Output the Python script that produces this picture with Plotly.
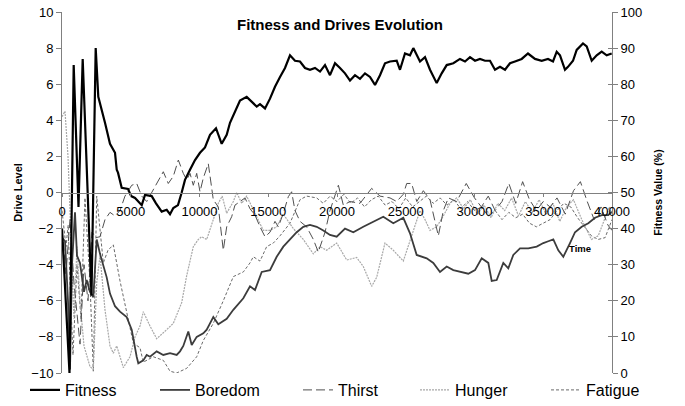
import plotly.graph_objects as go

# ---------------- data ----------------
fitness_t = [0, 290, 545, 850, 1200, 1505, 2145, 2450, 2640, 3127, 3490, 3855, 3980, 4073, 4342,
             4800, 5030, 5310, 5800, 6036, 6524, 6836, 7250, 7614, 7855, 8095, 8436, 8705, 8945,
             9309, 9673, 10036, 10400, 10764, 11200, 11614, 11978, 12218, 12705, 12945, 13432,
             13796, 14160, 14400, 14764, 15127, 15490, 15855, 16218, 16582, 16945, 17310, 17673,
             18036, 18400, 18764, 19127, 19490, 19855, 20218, 20582, 20945, 21310, 21673, 22036,
             22400, 22764, 23127, 23490, 23855, 24342, 24582, 24945, 25310, 25550, 26036, 26400,
             26764, 27250, 27614, 27978, 28460, 28945, 29310, 29673, 30036, 30400, 30764, 31127,
             31490, 31855, 32218, 32582, 32945, 33432, 33890, 34400, 34887, 35345, 35710, 35978,
             36218, 36582, 36800, 37164, 37432, 37890, 38160, 38524, 38887, 39250, 39614, 39978]
fitness_v = [40, 20, 0, 85.3, 46, 87, 21.5, 90, 76.5, 69.3, 63.5, 61, 56.3, 55.5, 51.3,
             51, 49, 48.5, 46.5, 49.3, 49, 47, 44.7, 45.2, 44, 45.7, 46.5, 50, 53.5,
             56.3, 59, 61, 62.5, 66, 67.8, 63.5, 66, 69.3, 73.5, 75.5, 76.5,
             75, 73.8, 74.5, 73.3, 76, 79.3, 82, 84.5, 88, 86.5, 86.3, 84.5,
             84, 84.5, 83.5, 85.3, 82.5, 85.8, 84.5, 83, 81, 82.5, 81.5, 83,
             82, 79.8, 82.5, 85.8, 86.3, 86.5, 84, 88.5, 88, 90, 86.3, 87.5,
             84, 80.3, 83, 85.3, 85.8, 87, 86.3, 87.5, 86.5, 87, 86.5, 86.5,
             84, 84.8, 84, 85.8, 86.3, 87, 88.5, 87, 86.5, 87, 86.3, 89,
             88, 84, 84.8, 86.5, 89.5, 91.3, 90.5, 86.5, 88, 89, 88, 88.5]

boredom_t = [0, 218, 436, 582, 727, 945, 1090, 1309, 1600, 1796, 2036, 2276, 2524, 2764, 3250,
             3490, 3855, 4218, 4705, 5070, 5432, 5550, 5913, 6160, 6400, 6887, 7367, 7855, 8342,
             8582, 8822, 9186, 9433, 9796, 10276, 10524, 10764, 11004, 11367, 11978, 12458, 12822,
             13186, 13673, 14036, 14524, 15127, 15614, 16095, 16582, 17070, 17550, 18036, 18524,
             19004, 19490, 19978, 20582, 21186, 21913, 22640, 23367, 24095, 24822, 25310, 25796,
             26524, 27004, 27490, 27978, 28458, 29070, 29550, 30036, 30524, 31004, 31250, 31614,
             32095, 32458, 32822, 33310, 33913, 34524, 35004, 35367, 35732, 36095, 36458, 36945,
             37310, 37796, 38277, 38764, 39250, 39732, 39978]
boredom_v = [-2.5, -2.7, -6, -9.8, -4, -1.1, -3.5, -3.9, -5.5, -4.85, -5.5, -5.8, -2.6, -3.4, -4.7,
             -5.6, -6.3, -6.6, -6.9, -7.6, -9.1, -9.46, -9.3, -9.0, -9.1, -8.8, -9.0, -8.9, -9.0,
             -8.8, -8.5, -7.7, -8.45, -8.0, -7.8, -7.6, -7.25, -6.9, -7.3, -7.0, -6.5, -6.2,
             -5.86, -5.2, -5.4, -4.4, -4.3, -3.56, -3.0, -2.6, -2.2, -1.9, -1.8, -1.9,
             -2.1, -2.35, -2.45, -2.0, -2.2, -1.9, -1.6, -1.34, -1.7, -1.4, -2.26, -3.46,
             -3.65, -3.9, -4.4, -4.1, -4.3, -4.4, -4.5, -4.3, -3.65, -3.9, -4.9, -4.85,
             -3.9, -4.2, -3.46, -3.1, -3.1, -3.0, -2.8, -2.7, -2.6, -3.2, -3.56, -2.8,
             -2.2, -1.9, -1.7, -1.4, -1.25, -1.25, -1.06]

thirst_t = [0, 290, 580, 870, 1310, 1600, 1890, 2180, 2470, 2764, 3127, 3490, 3855, 4218, 4580,
            5070, 5432, 5800, 6160, 6525, 6887, 7367, 7730, 8095, 8460, 8822, 9070, 9310, 9550,
            9796, 10036, 10276, 10640, 10885, 11004, 11367, 11730, 11978, 12340, 12580, 12945,
            13310, 13673, 14036, 14400, 14764, 15127, 15490, 15734, 16095, 16460, 16700, 16945,
            17310, 17790, 18280, 18640, 19130, 19490, 20100, 20460, 20945, 21673, 22520, 23127,
            23855, 24340, 24820, 25070, 25430, 25800, 26280, 26764, 27130, 27370, 27734, 28100,
            28700, 29400, 30000, 30500, 31000, 31500, 32000, 32500, 33000, 33500, 34000, 34500,
            35000, 35500, 36000, 36600, 37200, 37700, 38200, 38700, 39200, 39700, 40000]
thirst_v = [-2.0, -4.5, -1.5, -5, -8.4, -4, -6, -2.2, -2.5, -2.45, -1.5, -1.1, -1.3, -1.0, -0.2,
            0.4, 0.5, -0.2, -0.5, 0.0, 0.5, 1.15, 0.5, 0.9, 1.8, 1.06, 0.7, 1.06, 0.4,
            1.06, 0.04, 0.8, 1.6, 0.3, -0.4, -0.8, -3.2, -1.9, -1.34, -0.7, -0.5,
            -0.3, -0.9, -1.25, -1.9, -2.45, -2.2, -1.6, -1.9, -1.15, -0.23, 0.04, -1.0,
            -1.6, -1.9, -2.6, -3.3, -2.2, -1.0, 0.4, -0.7, -0.5, -0.6, 0.23, -0.2,
            -0.3, -0.5, -0.1, 0.5, 0.5, -0.5, 0.1, -0.4, -1.7, -2.4, -1.0, -0.3,
            -0.5, 0.5, -0.3, -0.8, -0.2, -1.0, -0.5, 0.5, -0.6, 0.6, -0.4, -1.0,
            -0.5, -0.8, -0.3, -1.2, 0.1, 0.6, -0.5, -1.5, -0.8, -1.8, -2.1]

hunger_t = [0, 218, 436, 655, 873, 1090, 1309, 1600, 2036, 2276, 2524, 2764, 3127, 3490, 3732,
            3980, 4460, 4945, 5310, 5673, 5913, 6400, 6887, 7614, 8095, 8705, 9070, 9550, 9914,
            10157, 10524, 11004, 11367, 11650, 11978, 12460, 12705, 13070, 13432, 14160, 14640,
            15127, 15614, 16095, 16825, 17550, 18280, 18764, 19250, 19978, 20705, 21430, 21913,
            22520, 22885, 23490, 24095, 24822, 25430, 26036, 26400, 26764, 27250, 27734, 28218,
            28705, 29200, 29700, 30200, 30700, 31200, 31700, 32200, 32700, 33200, 33700, 34200,
            34700, 35200, 35700, 36200, 36700, 37200, 37800, 38500, 39000, 39400, 39800, 40000]
hunger_v = [4.2, 4.5, 2.0, -2.5, -7, -3, -6, -8.5, -9.65, -9.8, -5, -3.5, -6.5, -8.5, -8.9,
            -8.5, -9.7, -9.1, -8.0, -7.4, -6.6, -7.4, -8.1, -7.6, -7.25, -6.1, -4.6, -3.0, -2.6,
            -2.45, -2.6, -1.5, -0.6, -0.2, -1.15, -0.5, 0.0, -0.6, -0.2, -1.34, -2.1,
            -2.1, -1.9, -1.2, -2.0, -2.6, -3.4, -3.0, -3.2, -2.8, -3.74, -3.6, -4.1,
            -5.2, -4.7, -2.8, -3.2, -3.8, -2.45, -1.0, -1.5, -2.1, -1.9, -1.3, -0.6,
            -0.3, -0.9, -0.4, -1.2, -0.7, -1.4, -0.6, -1.0, -0.3, -1.3, -0.5, -1.1,
            -0.4, -1.2, -0.6, -1.6, -0.8, -0.4, -1.5, -2.6, -2.4, -1.6, -0.8, -1.2]

fatigue_t = [0, 290, 450, 580, 800, 1090, 1380, 1670, 2036, 2276, 2524, 2764, 3004, 3345, 3732,
             4218, 4705, 5190, 5673, 5913, 6640, 7370, 7855, 8340, 9070, 9796, 10276, 11004,
             11730, 12460, 13190, 13673, 13913, 14400, 14884, 15370, 15855, 16580, 17310, 17790,
             18520, 19000, 19500, 20000, 20500, 21000, 21500, 22000, 22500, 23000, 23500, 24000,
             24500, 25000, 25500, 26000, 26500, 27000, 27500, 28000, 28500, 29000, 29500, 30000,
             30500, 31000, 31500, 32000, 32500, 33000, 33500, 34000, 34500, 35000, 35500, 36000,
             36500, 37000, 37500, 38000, 38500, 39000, 39500, 40000]
fatigue_v = [-1.0, -3, -1.8, -5, -9.0, -4, -7, -0.3, -5, -9.9, -0.2, -2.25, -3.9, -3.2, -2.9,
             -4.9, -6.7, -8.35, -8.6, -9.4, -9.1, -9.3, -9.9, -10.0, -9.74, -9.1, -8.2, -7.25,
             -6.0, -4.66, -4.4, -3.9, -3.56, -3.8, -3.0, -2.8, -2.4, -1.7, -0.4, -0.2,
             -0.3, -0.6, -0.2, -0.5, -0.1, -0.6, -0.3, -0.8, -0.4, -0.2, -0.7, -0.5,
             -0.9, -0.3, -0.8, -0.5, -0.2, -0.6, -0.3, -0.7, -0.4, -0.9, -0.5, -1.0,
             -0.8, -1.3, -1.0, -1.5, -1.1, -1.4, -1.2, -1.7, -1.9, -1.7, -1.5, -1.0,
             -0.6, -0.8, -1.4, -1.9, -2.4, -2.6, -2.5, -1.5]

x_ticks = [0, 5000, 10000, 15000, 20000, 25000, 30000, 35000, 40000]

# ---------------- figure ----------------
FONT = "Liberation Sans, Arial, sans-serif"
fig = go.Figure()

fig.add_trace(go.Scatter(x=fatigue_t, y=fatigue_v, name="Fatigue", mode="lines",
                         line=dict(color="#6a6a6a", width=1, dash="3px,2px"), legend="legend5"))
fig.add_trace(go.Scatter(x=hunger_t, y=hunger_v, name="Hunger", mode="lines",
                         line=dict(color="#a8a8a8", width=1.2, dash="2px,1px"), legend="legend4"))
fig.add_trace(go.Scatter(x=thirst_t, y=thirst_v, name="Thirst", mode="lines",
                         line=dict(color="#505050", width=1, dash="9px,4px"), legend="legend3"))
fig.add_trace(go.Scatter(x=boredom_t, y=boredom_v, name="Boredom", mode="lines",
                         line=dict(color="#3c3c3c", width=1.8), legend="legend2"))
fig.add_trace(go.Scatter(x=fitness_t, y=fitness_v, name="Fitness", mode="lines", yaxis="y2",
                         line=dict(color="#000000", width=2.2), legend="legend"))

W, H = 685, 406
PL, PR, PT, PB = 62, 612, 12, 373          # plot box, in page pixels
L, R, T, B = PL, W - PR, PT, H - PB
pw, ph = PR - PL, PB - PT

def px2x(px):
    return (px - PL) / pw

def py2y(py):
    return (PB - py) / ph

leg_common = dict(orientation="h", yanchor="middle", y=py2y(390), xanchor="left",
                  font=dict(family=FONT, size=16, color="#000"), bgcolor="rgba(0,0,0,0)",
                  borderwidth=0, itemwidth=30)
text_starts = [65, 195, 338, 455, 586]
legend_keys = ["legend", "legend2", "legend3", "legend4", "legend5"]
leg_layout = {}
for k, ts in zip(legend_keys, text_starts):
    leg_layout[k] = dict(leg_common, x=px2x(ts - 40))

fig.update_layout(
    width=W, height=H,
    margin=dict(l=L, r=R, t=T, b=B, pad=0, autoexpand=False),
    paper_bgcolor="white", plot_bgcolor="white",
    showlegend=True,
    font=dict(family=FONT, size=13, color="#000"),
    xaxis=dict(range=[0, 40000], tickvals=x_ticks, ticktext=[str(v) for v in x_ticks],
               anchor="free", position=0.5, showline=True, linecolor="#808080", linewidth=1,
               ticks="outside", ticklen=3, tickcolor="#808080", showgrid=False, zeroline=False,
               ticklabelstandoff=4, ticklabeloverflow="allow",
               automargin=False, tickfont=dict(family=FONT, size=13, color="#000")),
    yaxis=dict(range=[-10, 10], dtick=2, showline=True, linecolor="#808080", linewidth=1,
               ticks="outside", ticklen=5, tickcolor="#808080", showgrid=False, zeroline=False,
               automargin=False, ticklabeloverflow="allow",
               tickfont=dict(family=FONT, size=13, color="#000"),
               title=dict(text="<b>Drive Level</b>", font=dict(family=FONT, size=11), standoff=6)),
    yaxis2=dict(range=[0, 100], dtick=10, overlaying="y", side="right", showline=True,
                linecolor="#808080", linewidth=1, ticks="outside", ticklen=5, tickcolor="#808080",
                automargin=False, showgrid=False, zeroline=False, ticklabeloverflow="allow",
                tickfont=dict(family=FONT, size=13, color="#000"),
                title=dict(text="<b>Fitness Value (%)</b>", font=dict(family=FONT, size=10.5), standoff=13)),
    yaxis3=dict(range=[0, 100], dtick=10, overlaying="y", side="right", anchor="x",
                showline=False, ticks="inside", ticklen=4, tickcolor="#808080", automargin=False,
                showticklabels=False, showgrid=False, zeroline=False),
    annotations=[
        dict(text="<b>Fitness and Drives Evolution</b>", x=px2x(340), y=py2y(24),
             xref="paper", yref="paper", showarrow=False, xanchor="center", yanchor="middle",
             font=dict(family=FONT, size=15, color="#000")),
        dict(text="<b>Time</b>", x=37700, y=-3.1, xref="x", yref="y", showarrow=False,
             xanchor="center", yanchor="middle", font=dict(family=FONT, size=9.5, color="#000")),
    ],
    **leg_layout,
)
fig.add_trace(go.Scatter(x=[None], y=[None], yaxis="y3", showlegend=False, hoverinfo="skip"))

fig.write_html("out.html", config={"displayModeBar": False},
               post_script="document.body.style.margin='0px';")
